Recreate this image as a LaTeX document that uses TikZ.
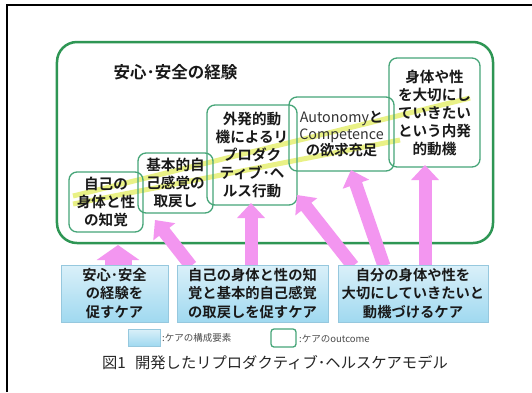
\documentclass[tikz,border=0pt]{standalone}
\usepackage{fontspec}
\newfontfamily\jp{Noto Sans CJK JP}[BoldFont={Noto Sans CJK JP Bold}]
\usetikzlibrary{arrows.meta,shadings}
\definecolor{framegreen}{RGB}{46,150,84}
\definecolor{boxgreen}{RGB}{70,165,120}
\definecolor{pinkarr}{RGB}{243,150,240}
\definecolor{bluetop}{RGB}{218,240,249}
\definecolor{bluebot}{RGB}{160,217,240}
\definecolor{blueedge}{RGB}{150,200,222}
\definecolor{hilite}{RGB}{222,235,70}
\definecolor{txt}{RGB}{25,25,25}
\tikzset{
  outcome/.style={draw=boxgreen, line width=1.3bp, rounded corners=8bp, align=center, inner sep=0pt,
    font=\jp\bfseries\fontsize{14.6bp}{18bp}\selectfont, text=txt},
  carebox/.style={draw=blueedge, line width=0.8bp, top color=bluetop, bottom color=bluebot, align=center, inner sep=0pt,
    font=\jp\bfseries\fontsize{14.3bp}{18.5bp}\selectfont, text=txt},
  pinkarrow/.style={draw=pinkarr, line width=13bp, -{Triangle[width=27bp,length=15bp]}},
  hl/.style={draw=hilite, line width=5bp, opacity=0.65}
}
\begin{document}
\begin{tikzpicture}[x=1bp,y=-1bp]
\useasboundingbox (0,0) rectangle (532,392);
\fill[white] (0,0) rectangle (532,392);
% outer black frame (top and left)
\draw[black, line width=2bp] (7,392) -- (7,5) -- (532,5);

% big green frame
\node[draw=framegreen, line width=2.5bp, rounded corners=20bp, minimum width=436bp, minimum height=201bp, inner sep=0pt] (frame) at (275,142.5) {};
\node[font=\jp\bfseries\fontsize{16.5bp}{18bp}\selectfont, text=txt] (title) at (175.5,72) {安心･安全の経験};

% highlight band
\coordinate (h1) at (73,196); \coordinate (h2) at (470,98);
\coordinate (h3) at (73,204); \coordinate (h4) at (400,140);
\draw[hl] (h1) -- (h2);
\draw[hl] (h3) -- (h4);

% outcome boxes
\node[outcome, minimum width=74bp, minimum height=60bp] (o1) at (106,202) {自己の\\身体と性\\の知覚};
\node[outcome, minimum width=75bp, minimum height=60bp] (o2) at (175.5,183) {基本的自\\己感覚の\\取戻し};
\node[outcome, minimum width=90bp, minimum height=100bp] (o3) at (252,155) {外発的動\\機によるリ\\プロダク\\ティブ･ヘ\\ルス行動};
\node[outcome, minimum width=105bp, minimum height=74bp, font=\jp\bfseries\fontsize{14.3bp}{16.5bp}\selectfont] (o4) at (341.5,134) {{\mdseries\color{black!80}Autonomy}と\\{\mdseries\color{black!80}Competence}\\の欲求充足};
\node[outcome, minimum width=91bp, minimum height=109bp] (o5) at (434.5,112.5) {身体や性\\を大切にし\\ていきたい\\という内発\\的動機};

% arrow end points
\coordinate (t1) at (118,266); \coordinate (p1) at (118,245);
\coordinate (t2) at (191,266); \coordinate (p2) at (155,220);
\coordinate (t3) at (251,266); \coordinate (p3) at (251,203);
\coordinate (t4) at (353,266); \coordinate (p4) at (297,195);
\coordinate (t5) at (384,266); \coordinate (p5) at (351,170);
\coordinate (t6) at (425,266); \coordinate (p6) at (425,165);

\draw[pinkarr, line width=27bp, -{Triangle[width=42bp,length=15bp]}] (t1) -- (p1);
\draw[pinkarrow] (t2) -- (p2);
\draw[pinkarrow] (t3) -- (p3);
\draw[pinkarrow] (t4) -- (p4);
\draw[pinkarrow] (t5) -- (p5);
\draw[pinkarrow] (t6) -- (p6);

% care boxes
\node[carebox, minimum width=107bp, minimum height=57bp] (c1) at (114.5,293.5) {安心･安全\\の経験を\\促すケア};
\node[carebox, minimum width=151bp, minimum height=57bp] (c2) at (252.5,293.5) {自己の身体と性の知\\覚と基本的自己感覚\\の取戻しを促すケア};
\node[carebox, minimum width=150bp, minimum height=57bp] (c3) at (413,293.5) {自分の身体や性を\\大切にしていきたいと\\動機づけるケア};

% legend
\node[carebox, minimum width=32bp, minimum height=17bp] (lg1) at (144,337.5) {};
\node[anchor=west, inner sep=0pt, font=\jp\fontsize{9.5bp}{11bp}\selectfont, text=black!70] (lt1) at (162,338) {:ケアの構成要素};
\node[draw=boxgreen, line width=1.3bp, rounded corners=3bp, minimum width=25bp, minimum height=18bp, inner sep=0pt] (lg2) at (283.5,338) {};
\node[anchor=west, inner sep=0pt, font=\jp\fontsize{9.5bp}{11bp}\selectfont, text=black!70] (lt2) at (299,339) {:ケアのoutcome};

% caption
\node[font=\jp\fontsize{15.3bp}{18bp}\selectfont, text=black!85] (cap) at (275,363) {図1\hspace{0.6em}開発したリプロダクティブ･ヘルスケアモデル};
\end{tikzpicture}
\end{document}
